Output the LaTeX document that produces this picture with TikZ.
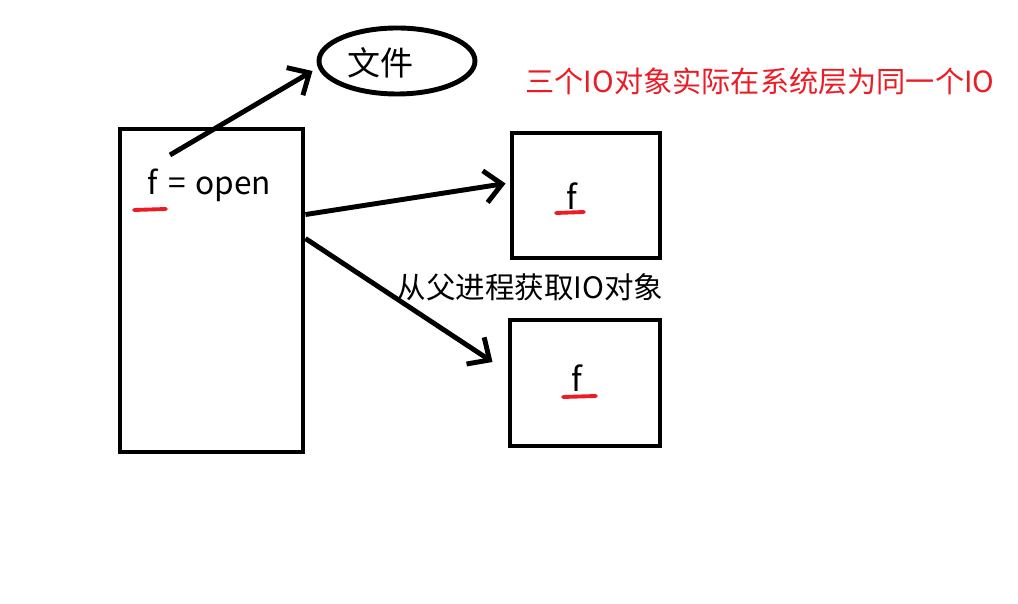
\documentclass[tikz,border=0pt]{standalone}
\usepackage{fontspec}
\setmainfont{Noto Sans CJK SC}
\definecolor{note}{RGB}{237,28,36}
\usetikzlibrary{arrows.meta, shapes.geometric, calc}

\begin{document}
\begin{tikzpicture}[x=1cm, y=-1cm, line width=1.4pt, >={Straight Barb[length=1.7mm, width=3.2mm]}]
    \useasboundingbox (0,0) rectangle (10.18,6.04);
    \tikzset{txt/.style={inner sep=0pt, font=\fontsize{9.4pt}{11pt}\selectfont},
             redline/.style={note, line width=1.1pt, line cap=round}}
    % 父进程与子进程
    \node[draw, minimum width=1.83cm, minimum height=3.23cm] (parent) at (2.115,2.905) {};
    \node[draw, minimum width=1.48cm, minimum height=1.25cm] (child1) at (5.86,1.955) {};
    \node[draw, minimum width=1.50cm, minimum height=1.26cm] (child2) at (5.85,3.83) {};
    % 文件
    \node[draw, ellipse, minimum width=1.56cm, minimum height=0.66cm] (file) at (3.97,0.61) {};
    \node[txt] (filetext) at (3.81,0.63) {文件};
    % 变量 f
    \node[txt, font=\fontsize{9pt}{11pt}\selectfont] (fopen) at (2.09,1.85) {f\hspace{0.35em}=\hspace{0.3em}open};
    \node[txt] (f1) at (5.72,1.96) {f};
    \node[txt] (f2) at (5.77,3.78) {f};
    \draw[redline] (1.34,2.10) -- (1.66,2.09);
    \draw[redline] (5.56,2.13) -- (5.84,2.12);
    \draw[redline] (5.63,3.97) -- (5.96,3.96);
    % 箭头
    \coordinate (fstart) at (1.70,1.55);
    \draw[->] (fstart) -- ($(file.west)+(-0.04,0.1)$);
    \draw[->] ($(parent.north east)+(0,0.88)$) -- ($(child1.west)+(-0.04,-0.12)$);
    \draw[->] ($(parent.north east)+(0,1.12)$) -- ($(child2.west)+(-0.15,-0.21)$);
    % 说明
    \node[txt, font=\fontsize{8.4pt}{10pt}\selectfont] (inherit) at (5.30,2.87) {从父进程获取IO对象};
    \node[txt, note, font=\fontsize{8.3pt}{10pt}\selectfont] (same) at (7.60,0.81) {三个IO对象实际在系统层为同一个IO};
\end{tikzpicture}
\end{document}
